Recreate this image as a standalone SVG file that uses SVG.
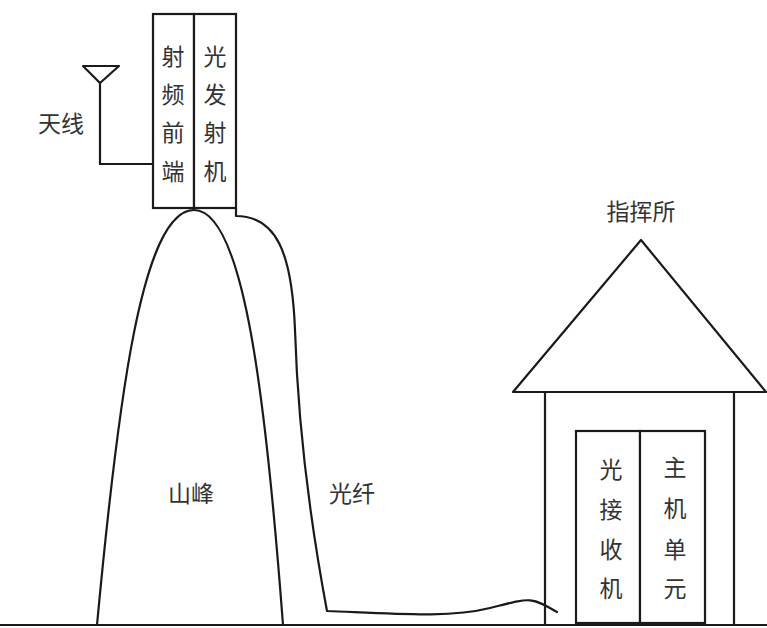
<svg xmlns="http://www.w3.org/2000/svg" width="767" height="628" viewBox="0 0 767 628">
  <style>
    .ln { fill: none; stroke: #1a1a1a; stroke-width: 2.2; stroke-linejoin: round; stroke-linecap: round; }
    .box { fill: #fff; stroke: #1a1a1a; stroke-width: 2.2; }
    .t { font-family: "Noto Sans CJK SC", "Noto Sans", sans-serif; font-size: 23px; fill: #333; text-anchor: middle; dominant-baseline: central; }
  </style>
  <rect width="767" height="628" fill="#fff"/>

  <!-- ground -->
  <g id="ground">
    <line class="ln" x1="0" y1="625" x2="767" y2="625"/>
  </g>

  <!-- mountain peak -->
  <g id="mountain">
    <path class="ln" d="M97 625 C 118 400, 142 210, 194 210 C 244 210, 266 400, 283 625"/>
    <text class="t" x="191" y="492">山峰</text>
  </g>

  <!-- antenna -->
  <g id="antenna">
    <path class="ln" d="M83 66 H119 L100 83 Z"/>
    <text class="t" x="61" y="122">天线</text>
  </g>

  <!-- RF front end / optical transmitter unit on the summit -->
  <g id="transmitter">
    <rect class="box" x="153" y="14" width="41" height="194"/>
    <rect class="box" x="194" y="14" width="42" height="194"/>
    <text class="t" x="173" y="55">射</text>
    <text class="t" x="173" y="93">频</text>
    <text class="t" x="173" y="131">前</text>
    <text class="t" x="173" y="170">端</text>
    <text class="t" x="215" y="55">光</text>
    <text class="t" x="215" y="93">发</text>
    <text class="t" x="215" y="131">射</text>
    <text class="t" x="215" y="170">机</text>
  </g>

  <!-- command post -->
  <g id="command-post">
    <path class="ln" d="M641 240 L513 392 H766 Z"/>
    <line class="ln" x1="545" y1="392" x2="545" y2="625"/>
    <line class="ln" x1="734" y1="392" x2="734" y2="625"/>
    <text class="t" x="641" y="210">指挥所</text>
  </g>

  <g id="receiver">
    <rect class="box" x="576" y="431" width="64" height="192"/>
    <rect class="box" x="640" y="431" width="65" height="192"/>
    <text class="t" x="611" y="468">光</text>
    <text class="t" x="611" y="508">接</text>
    <text class="t" x="611" y="548">收</text>
    <text class="t" x="611" y="587">机</text>
    <text class="t" x="675" y="466">主</text>
    <text class="t" x="675" y="507">机</text>
    <text class="t" x="675" y="548">单</text>
    <text class="t" x="675" y="587">元</text>
  </g>

  <!-- connectors -->
  <g id="connectors">
    <line class="ln" x1="100" y1="83" x2="100" y2="164"/>
    <line class="ln" x1="100" y1="164" x2="153" y2="164"/>
    <path class="ln" d="M236 208 V216 C 276 216, 292 252, 295 330 C 298 430, 310 520, 327 611 C 400 614, 450 618, 490 608 S 530 596, 557 612"/>
  </g>
  <text class="t" x="352" y="492">光纤</text>
</svg>
